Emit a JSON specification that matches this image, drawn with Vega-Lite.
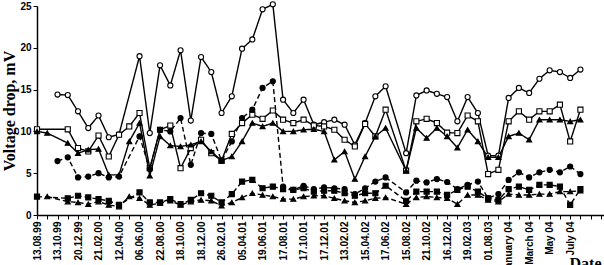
{
"$schema": "https://vega.github.io/schema/vega-lite/v6.json",
"width": 567, "height": 209,
"autosize": "none",
"padding": {"left": 37, "top": 6, "right": 0, "bottom": 50},
"background": "white",
"config": {"view": {"stroke": null}},
"data": {"values": [
{"i":2,"s":"C","v":14.4},{"i":3,"s":"C","v":14.35},{"i":4,"s":"C","v":12.4},{"i":5,"s":"C","v":10.4},{"i":6,"s":"C","v":11.9},{"i":7,"s":"C","v":9.3},{"i":8,"s":"C","v":9.65},{"i":10,"s":"C","v":19.0},{"i":11,"s":"C","v":9.8},{"i":12,"s":"C","v":17.9},{"i":13,"s":"C","v":15.5},{"i":14,"s":"C","v":19.7},{"i":15,"s":"C","v":11.3},{"i":16,"s":"C","v":18.9},{"i":17,"s":"C","v":17.1},{"i":18,"s":"C","v":12.2},{"i":19,"s":"C","v":14.2},{"i":20,"s":"C","v":19.9},{"i":21,"s":"C","v":21.0},{"i":22,"s":"C","v":24.6},{"i":23,"s":"C","v":25.2},{"i":24,"s":"C","v":13.8},{"i":25,"s":"C","v":12.2},{"i":26,"s":"C","v":13.8},{"i":27,"s":"C","v":10.8},{"i":28,"s":"C","v":11.1},{"i":29,"s":"C","v":11.4},{"i":30,"s":"C","v":10.8},{"i":31,"s":"C","v":8.4},{"i":32,"s":"C","v":11.0},{"i":33,"s":"C","v":14.2},{"i":34,"s":"C","v":15.4},{"i":36,"s":"C","v":7.4},{"i":37,"s":"C","v":14.3},{"i":38,"s":"C","v":14.9},{"i":39,"s":"C","v":14.5},{"i":40,"s":"C","v":14.1},{"i":41,"s":"C","v":11.2},{"i":42,"s":"C","v":14.1},{"i":43,"s":"C","v":12.2},{"i":44,"s":"C","v":7.1},{"i":45,"s":"C","v":7.1},{"i":46,"s":"C","v":14.0},{"i":47,"s":"C","v":15.2},{"i":48,"s":"C","v":14.6},{"i":49,"s":"C","v":16.3},{"i":50,"s":"C","v":17.3},{"i":51,"s":"C","v":17.1},{"i":52,"s":"C","v":16.4},{"i":53,"s":"C","v":17.4},
{"i":0,"s":"S","v":10.25},{"i":3,"s":"S","v":10.25},{"i":4,"s":"S","v":8.0},{"i":5,"s":"S","v":7.6},{"i":6,"s":"S","v":9.5},{"i":7,"s":"S","v":7.0},{"i":8,"s":"S","v":9.6},{"i":9,"s":"S","v":10.6},{"i":10,"s":"S","v":12.2},{"i":11,"s":"S","v":5.6},{"i":12,"s":"S","v":10.2},{"i":13,"s":"S","v":10.7},{"i":14,"s":"S","v":5.6},{"i":15,"s":"S","v":8.0},{"i":16,"s":"S","v":9.0},{"i":17,"s":"S","v":7.4},{"i":18,"s":"S","v":6.5},{"i":19,"s":"S","v":9.7},{"i":20,"s":"S","v":11.0},{"i":21,"s":"S","v":12.0},{"i":22,"s":"S","v":11.5},{"i":23,"s":"S","v":12.5},{"i":24,"s":"S","v":11.4},{"i":25,"s":"S","v":11.0},{"i":26,"s":"S","v":11.4},{"i":27,"s":"S","v":10.7},{"i":28,"s":"S","v":10.6},{"i":29,"s":"S","v":10.2},{"i":30,"s":"S","v":9.0},{"i":31,"s":"S","v":8.2},{"i":32,"s":"S","v":10.9},{"i":33,"s":"S","v":9.4},{"i":34,"s":"S","v":12.6},{"i":36,"s":"S","v":5.3},{"i":37,"s":"S","v":11.2},{"i":38,"s":"S","v":11.5},{"i":39,"s":"S","v":11.0},{"i":40,"s":"S","v":9.85},{"i":41,"s":"S","v":9.8},{"i":42,"s":"S","v":11.9},{"i":43,"s":"S","v":11.2},{"i":44,"s":"S","v":4.9},{"i":45,"s":"S","v":5.4},{"i":46,"s":"S","v":11.2},{"i":47,"s":"S","v":12.4},{"i":48,"s":"S","v":11.4},{"i":49,"s":"S","v":12.4},{"i":50,"s":"S","v":12.4},{"i":51,"s":"S","v":13.2},{"i":52,"s":"S","v":8.8},{"i":53,"s":"S","v":12.6},
{"i":0,"s":"T","v":10.0},{"i":1,"s":"T","v":9.8},{"i":3,"s":"T","v":8.6},{"i":4,"s":"T","v":7.4},{"i":5,"s":"T","v":7.8},{"i":6,"s":"T","v":7.9},{"i":7,"s":"T","v":4.8},{"i":8,"s":"T","v":4.8},{"i":9,"s":"T","v":8.8},{"i":10,"s":"T","v":11.0},{"i":11,"s":"T","v":4.7},{"i":12,"s":"T","v":9.4},{"i":13,"s":"T","v":8.3},{"i":14,"s":"T","v":8.2},{"i":15,"s":"T","v":8.4},{"i":16,"s":"T","v":8.8},{"i":17,"s":"T","v":7.6},{"i":18,"s":"T","v":6.5},{"i":19,"s":"T","v":7.0},{"i":20,"s":"T","v":8.8},{"i":21,"s":"T","v":11.0},{"i":22,"s":"T","v":10.6},{"i":23,"s":"T","v":11.0},{"i":24,"s":"T","v":10.0},{"i":25,"s":"T","v":10.0},{"i":26,"s":"T","v":10.2},{"i":27,"s":"T","v":10.25},{"i":28,"s":"T","v":10.0},{"i":29,"s":"T","v":6.6},{"i":30,"s":"T","v":7.6},{"i":31,"s":"T","v":4.3},{"i":32,"s":"T","v":7.0},{"i":33,"s":"T","v":9.4},{"i":34,"s":"T","v":10.4},{"i":36,"s":"T","v":5.3},{"i":37,"s":"T","v":10.4},{"i":38,"s":"T","v":9.2},{"i":39,"s":"T","v":10.4},{"i":40,"s":"T","v":9.4},{"i":41,"s":"T","v":8.05},{"i":42,"s":"T","v":10.2},{"i":43,"s":"T","v":8.8},{"i":44,"s":"T","v":6.9},{"i":45,"s":"T","v":6.9},{"i":46,"s":"T","v":9.4},{"i":47,"s":"T","v":9.8},{"i":48,"s":"T","v":9.0},{"i":49,"s":"T","v":11.4},{"i":50,"s":"T","v":11.4},{"i":51,"s":"T","v":11.4},{"i":52,"s":"T","v":11.2},{"i":53,"s":"T","v":11.4},
{"i":2,"s":"D","v":6.45},{"i":3,"s":"D","v":6.9},{"i":4,"s":"D","v":4.5},{"i":5,"s":"D","v":4.6},{"i":6,"s":"D","v":5.0},{"i":7,"s":"D","v":4.5},{"i":8,"s":"D","v":4.6},{"i":10,"s":"D","v":9.4},{"i":11,"s":"D","v":5.5},{"i":12,"s":"D","v":10.2},{"i":13,"s":"D","v":10.0},{"i":14,"s":"D","v":11.6},{"i":15,"s":"D","v":6.0},{"i":16,"s":"D","v":9.8},{"i":17,"s":"D","v":9.7},{"i":18,"s":"D","v":6.5},{"i":19,"s":"D","v":8.8},{"i":20,"s":"D","v":11.6},{"i":21,"s":"D","v":12.6},{"i":22,"s":"D","v":15.2},{"i":23,"s":"D","v":16.0},{"i":24,"s":"D","v":3.4},{"i":25,"s":"D","v":3.0},{"i":26,"s":"D","v":3.5},{"i":27,"s":"D","v":3.1},{"i":28,"s":"D","v":3.3},{"i":29,"s":"D","v":3.2},{"i":30,"s":"D","v":3.1},{"i":31,"s":"D","v":2.5},{"i":32,"s":"D","v":3.2},{"i":33,"s":"D","v":4.0},{"i":34,"s":"D","v":4.5},{"i":36,"s":"D","v":2.7},{"i":37,"s":"D","v":4.1},{"i":38,"s":"D","v":3.9},{"i":39,"s":"D","v":4.3},{"i":40,"s":"D","v":3.95},{"i":41,"s":"D","v":3.1},{"i":42,"s":"D","v":3.6},{"i":43,"s":"D","v":4.0},{"i":44,"s":"D","v":2.0},{"i":45,"s":"D","v":2.5},{"i":46,"s":"D","v":4.2},{"i":47,"s":"D","v":5.1},{"i":48,"s":"D","v":4.5},{"i":49,"s":"D","v":5.1},{"i":50,"s":"D","v":5.4},{"i":51,"s":"D","v":5.1},{"i":52,"s":"D","v":5.8},{"i":53,"s":"D","v":4.9},
{"i":0,"s":"FS","v":2.2},{"i":3,"s":"FS","v":2.0},{"i":4,"s":"FS","v":2.3},{"i":5,"s":"FS","v":2.1},{"i":6,"s":"FS","v":1.9},{"i":7,"s":"FS","v":1.7},{"i":8,"s":"FS","v":1.2},{"i":10,"s":"FS","v":2.7},{"i":11,"s":"FS","v":1.5},{"i":12,"s":"FS","v":1.5},{"i":13,"s":"FS","v":1.9},{"i":14,"s":"FS","v":1.3},{"i":15,"s":"FS","v":1.8},{"i":16,"s":"FS","v":2.6},{"i":17,"s":"FS","v":2.3},{"i":18,"s":"FS","v":1.5},{"i":19,"s":"FS","v":2.5},{"i":20,"s":"FS","v":4.0},{"i":21,"s":"FS","v":4.2},{"i":22,"s":"FS","v":3.2},{"i":23,"s":"FS","v":3.4},{"i":24,"s":"FS","v":3.1},{"i":25,"s":"FS","v":3.0},{"i":26,"s":"FS","v":3.2},{"i":27,"s":"FS","v":2.8},{"i":28,"s":"FS","v":2.9},{"i":29,"s":"FS","v":2.9},{"i":30,"s":"FS","v":2.6},{"i":31,"s":"FS","v":2.3},{"i":32,"s":"FS","v":2.6},{"i":33,"s":"FS","v":2.6},{"i":34,"s":"FS","v":3.5},{"i":36,"s":"FS","v":1.7},{"i":37,"s":"FS","v":2.8},{"i":38,"s":"FS","v":2.8},{"i":39,"s":"FS","v":2.8},{"i":40,"s":"FS","v":2.4},{"i":41,"s":"FS","v":3.0},{"i":42,"s":"FS","v":3.4},{"i":43,"s":"FS","v":2.8},{"i":44,"s":"FS","v":2.0},{"i":45,"s":"FS","v":1.8},{"i":46,"s":"FS","v":3.1},{"i":47,"s":"FS","v":3.4},{"i":48,"s":"FS","v":3.0},{"i":49,"s":"FS","v":3.6},{"i":50,"s":"FS","v":3.6},{"i":51,"s":"FS","v":3.4},{"i":52,"s":"FS","v":1.2},{"i":53,"s":"FS","v":3.1},
{"i":1,"s":"FT","v":2.2},{"i":3,"s":"FT","v":1.6},{"i":4,"s":"FT","v":1.5},{"i":5,"s":"FT","v":1.3},{"i":6,"s":"FT","v":1.6},{"i":7,"s":"FT","v":1.2},{"i":8,"s":"FT","v":1.0},{"i":9,"s":"FT","v":2.2},{"i":10,"s":"FT","v":2.0},{"i":11,"s":"FT","v":1.2},{"i":12,"s":"FT","v":1.4},{"i":13,"s":"FT","v":1.7},{"i":14,"s":"FT","v":1.2},{"i":15,"s":"FT","v":1.6},{"i":16,"s":"FT","v":1.8},{"i":17,"s":"FT","v":1.7},{"i":18,"s":"FT","v":1.1},{"i":19,"s":"FT","v":1.5},{"i":20,"s":"FT","v":2.1},{"i":21,"s":"FT","v":2.6},{"i":22,"s":"FT","v":2.4},{"i":23,"s":"FT","v":2.2},{"i":24,"s":"FT","v":1.9},{"i":25,"s":"FT","v":1.9},{"i":26,"s":"FT","v":2.2},{"i":27,"s":"FT","v":2.3},{"i":28,"s":"FT","v":2.3},{"i":29,"s":"FT","v":2.0},{"i":30,"s":"FT","v":1.7},{"i":31,"s":"FT","v":1.5},{"i":32,"s":"FT","v":1.7},{"i":33,"s":"FT","v":2.0},{"i":34,"s":"FT","v":2.1},{"i":36,"s":"FT","v":1.3},{"i":37,"s":"FT","v":2.1},{"i":38,"s":"FT","v":2.2},{"i":39,"s":"FT","v":2.1},{"i":40,"s":"FT","v":2.0},{"i":41,"s":"FT","v":1.3},{"i":42,"s":"FT","v":2.4},{"i":43,"s":"FT","v":2.4},{"i":44,"s":"FT","v":1.8},{"i":45,"s":"FT","v":1.6},{"i":46,"s":"FT","v":2.5},{"i":47,"s":"FT","v":2.4},{"i":48,"s":"FT","v":2.4},{"i":49,"s":"FT","v":2.5},{"i":50,"s":"FT","v":2.5},{"i":51,"s":"FT","v":2.8},{"i":52,"s":"FT","v":2.8},{"i":53,"s":"FT","v":2.9}
]},
"encoding": {
  "x": {"field": "i", "type": "quantitative",
    "scale": {"domain": [0, 55.3], "nice": false, "zero": false},
    "axis": {"title": "Date", "grid": false,
      "values": [0,1,2,3,4,5,6,7,8,9,10,11,12,13,14,15,16,17,18,19,20,21,22,23,24,25,26,27,28,29,30,31,32,33,34,35,36,37,38,39,40,41,42,43,44,45,46,47,48,49,50,51,52,53,54,55],
      "labelExpr": "(datum.value % 2 == 0 && datum.value <= 52) ? ['13.08.99','13.10.99','20.12.99','21.02.00','12.04.00','06.06.00','22.08.00','18.10.00','18.12.00','26.02.01','05.04.01','19.06.01','17.08.01','17.10.01','17.12.01','13.02.02','15.04.02','17.06.02','15.08.02','21.10.02','16.12.02','19.02.03','01.08.03','January 04','March 04','May 04','July 04'][datum.value / 2] : ''",
      "labelAngle": 270, "labelAlign": "right", "labelBaseline": "middle",
      "labelFont": "Liberation Sans", "labelFontWeight": "bold", "labelFontSize": 10, "labelColor": "black",
      "labelPadding": 2, "labelOverlap": false, "labelBound": false, "labelFlush": false,
      "tickSize": 4, "tickColor": "black", "tickWidth": 1, "domainColor": "black", "domainWidth": 1.5,
      "titleFont": "Liberation Serif", "titleFontWeight": "bold", "titleFontSize": 16, "titleColor": "black",
      "titleAngle": 0, "titleAlign": "left", "titleBaseline": "top", "titleX": 532, "titleY": 40}},
  "y": {"field": "v", "type": "quantitative",
    "scale": {"domain": [0, 25], "nice": false},
    "axis": {"title": "Voltage drop, mV", "grid": false, "values": [0,5,10,15,20,25],
      "labelFont": "Liberation Sans", "labelFontWeight": "bold", "labelFontSize": 10, "labelColor": "black",
      "tickSize": 4, "tickColor": "black", "domainColor": "black", "domainWidth": 1.5, "labelPadding": 2,
      "titleFont": "Liberation Serif", "titleFontWeight": "bold", "titleFontSize": 16, "titleColor": "black", "titlePadding": 2}}
},
"layer": [
  {"mark": {"type": "line", "color": "black", "strokeWidth": 1.4},
   "encoding": {"detail": {"field": "s"},
     "strokeDash": {"field": "s", "type": "nominal", "legend": null,
       "scale": {"domain": ["C","S","T","D","FS","FT"], "range": [[1,0],[1,0],[1,0],[5,3],[5,3],[5,3]]}}}},
  {"mark": {"type": "point", "filled": true, "stroke": "black", "strokeWidth": 1.1, "opacity": 1, "size": 26},
   "encoding": {
     "shape": {"field": "s", "type": "nominal", "legend": null,
       "scale": {"domain": ["C","S","T","D","FS","FT"], "range": ["circle","square","triangle-up","circle","square","triangle-up"]}},
     "fill": {"field": "s", "type": "nominal", "legend": null,
       "scale": {"domain": ["C","S","T","D","FS","FT"], "range": ["white","white","black","black","black","black"]}}}}
]
}
